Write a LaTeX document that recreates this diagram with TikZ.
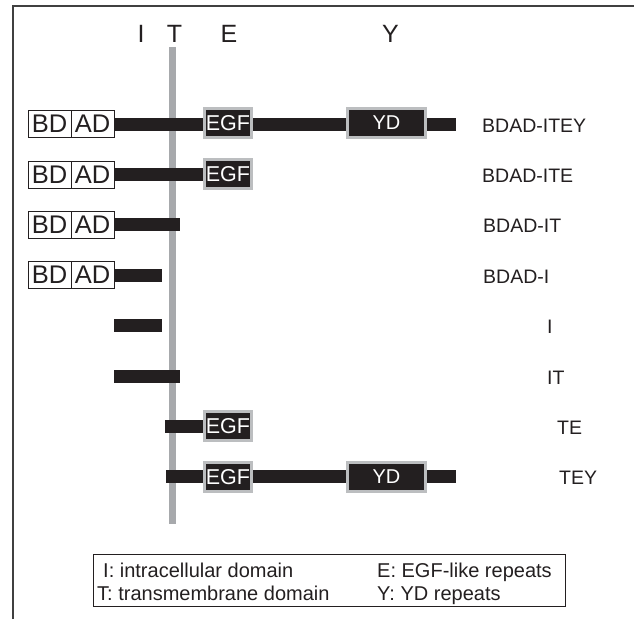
\documentclass[tikz,border=0pt]{standalone}
\usepackage{fontspec}
\setmainfont{Liberation Sans}
\usetikzlibrary{backgrounds}
\definecolor{ink}{HTML}{231F20}
\definecolor{membr}{HTML}{A7A9AC}
\definecolor{rim}{HTML}{BCBEC0}
\definecolor{framecol}{HTML}{404040}

\begin{document}
\begin{tikzpicture}[x=1pt,y=-1pt,
  modbox/.style={draw=ink, line width=0.8pt, minimum width=43pt, minimum height=27pt,
    inner sep=0pt, text=ink, font=\fontsize{25.5}{25.5}\selectfont},
  egfbox/.style={fill=ink, draw=rim, line width=3pt, minimum width=47pt, minimum height=29pt,
    inner sep=0pt, text=white, font=\fontsize{21.5}{21.5}\selectfont},
  ydbox/.style={egfbox, minimum width=78pt, font=\fontsize{20}{20}\selectfont},
  chain/.style={draw=ink, line width=13pt},
  rowlabel/.style={anchor=base west, inner sep=0pt, text=ink, font=\fontsize{19.5}{19.5}\selectfont},
  colhead/.style={anchor=base, inner sep=0pt, text=ink, font=\fontsize{25}{25}\selectfont},
  legtext/.style={anchor=base west, inner sep=0pt, text=ink, font=\fontsize{20}{20}\selectfont},
]
\useasboundingbox (0,0) rectangle (634,619);

% open frame (top and left edges only)
\coordinate (fbl) at (13,619);
\coordinate (ftl) at (13,6);
\coordinate (ftr) at (634,6);
\draw[framecol, line width=2pt] (fbl) -- (ftl) -- (ftr);

% column headings
\node[colhead] (hI) at (141,42) {I};
\node[colhead] (hT) at (174.5,42) {T};
\node[colhead] (hE) at (229,42) {E};
\node[colhead] (hY) at (390.5,42) {Y};

% row 1: BDAD-ITEY
\node[modbox] (bd1) at (49.5,124) {BD};
\node[modbox] (ad1) at (92.5,124) {AD};
\node[egfbox] (egf1) at (228,123) {EGF};
\node[ydbox]  (yd1)  at (386.5,123) {YD};
\coordinate (end1) at (456,124);
\node[rowlabel] (lab1) at (482,132) {BDAD-ITEY};

% row 2: BDAD-ITE
\node[modbox] (bd2) at (49.5,174.4) {BD};
\node[modbox] (ad2) at (92.5,174.4) {AD};
\node[egfbox] (egf2) at (228,174.4) {EGF};
\node[rowlabel] (lab2) at (482,182.4) {BDAD-ITE};

% row 3: BDAD-IT
\node[modbox] (bd3) at (49.5,224.8) {BD};
\node[modbox] (ad3) at (92.5,224.8) {AD};
\coordinate (end3) at (180,224.8);
\node[rowlabel] (lab3) at (483,232.8) {BDAD-IT};

% row 4: BDAD-I
\node[modbox] (bd4) at (49.5,275.2) {BD};
\node[modbox] (ad4) at (92.5,275.2) {AD};
\coordinate (end4) at (162,275.2);
\node[rowlabel] (lab4) at (483,283.2) {BDAD-I};

% row 5: I
\coordinate (beg5) at (114,325.6);
\coordinate (end5) at (162,325.6);
\node[rowlabel] (lab5) at (547,333.6) {I};

% row 6: IT
\coordinate (beg6) at (114,376);
\coordinate (end6) at (180,376);
\node[rowlabel] (lab6) at (547,384) {IT};

% row 7: TE
\coordinate (beg7) at (165,426.4);
\node[egfbox] (egf7) at (228,426.4) {EGF};
\node[rowlabel] (lab7) at (557,434.4) {TE};

% row 8: TEY
\coordinate (beg8) at (166,476.8);
\node[egfbox] (egf8) at (228,476.8) {EGF};
\node[ydbox]  (yd8)  at (386.5,476.8) {YD};
\coordinate (end8) at (456,476.8);
\node[rowlabel] (lab8) at (559,484.8) {TEY};

% membrane line, with the protein chains crossing over it, all behind the boxes
\coordinate (memtop) at (172.5,47);
\coordinate (membot) at (172.5,524);
\begin{scope}[on background layer]
  \draw[membr, line width=7pt] (memtop) -- (membot);
  \draw[chain] (ad1.east) -- (end1);
  \draw[chain] (ad2.east) -- (egf2.west);
  \draw[chain] (ad3.east) -- (end3);
  \draw[chain] (ad4.east) -- (end4);
  \draw[chain] (beg5) -- (end5);
  \draw[chain] (beg6) -- (end6);
  \draw[chain] (beg7) -- (egf7.west);
  \draw[chain] (beg8) -- (end8);
\end{scope}

% legend
\node[draw=ink, line width=0.8pt, minimum width=472pt, minimum height=52pt, inner sep=0pt]
  (legend) at (329,580.5) {};
\node[legtext] (legI) at (103,577) {I: intracellular domain};
\node[legtext] (legT) at (97,600) {T: transmembrane domain};
\node[legtext] (legE) at (377,577) {E: EGF-like repeats};
\node[legtext] (legY) at (377,600) {Y: YD repeats};
\end{tikzpicture}
\end{document}
